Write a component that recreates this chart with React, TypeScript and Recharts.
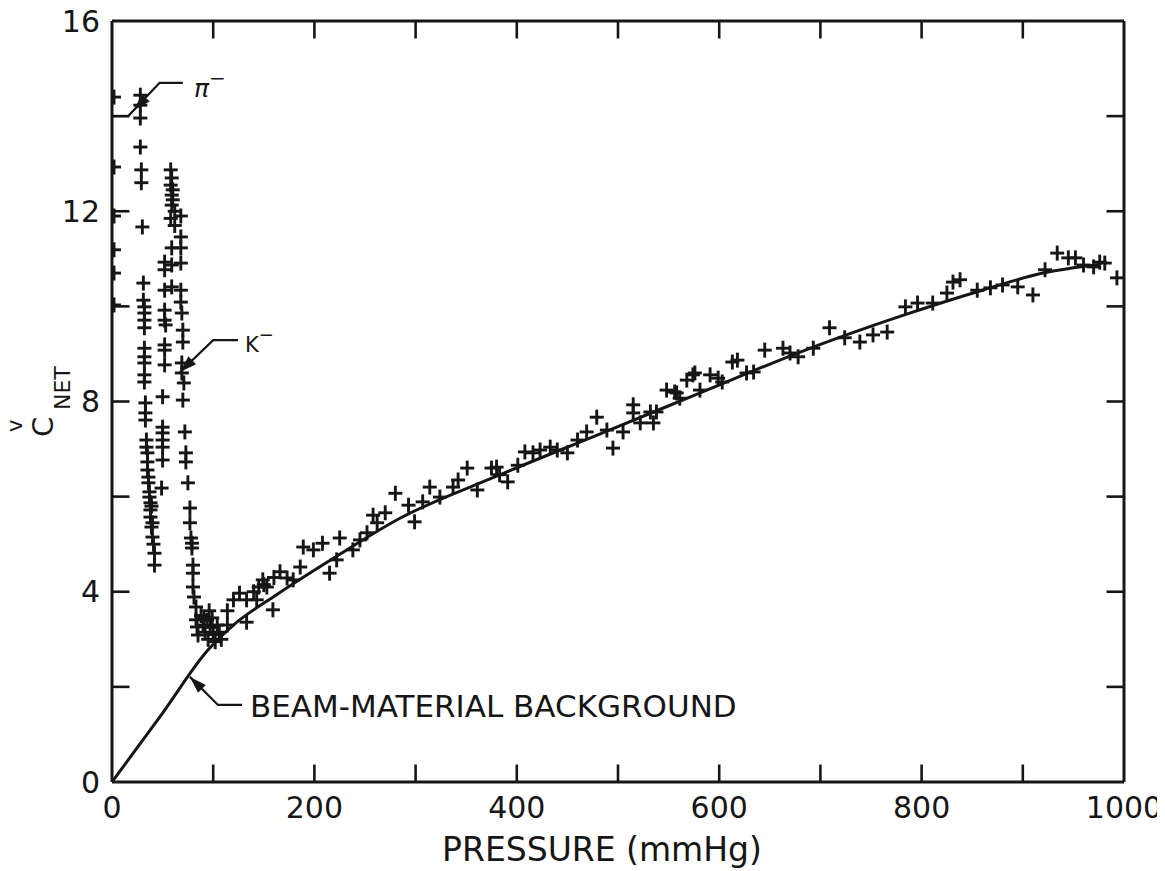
import React from 'react';
import { ComposedChart, Scatter, Line, XAxis, YAxis, ReferenceLine, Customized } from 'recharts';

// ---- axis ticks ----
const xTicks = [0, 100, 200, 300, 400, 500, 600, 700, 800, 900, 1000];
const xLabelled = [0, 200, 400, 600, 800, 1000];
const yTicks = [0, 2, 4, 6, 8, 10, 12, 14, 16];
const yLabelled = [0, 4, 8, 12, 16];

// ---- fitted curve (solid line) ----
const curveX = [0, 50, 95, 120, 160, 220, 285, 380, 480, 580, 680, 780, 860, 920, 975];
const curveY = [0, 1.45, 2.78, 3.3, 3.9, 4.72, 5.55, 6.43, 7.3, 8.17, 9.04, 9.8, 10.34, 10.7, 10.88];

// ---- measured points ----
const piAxis = [
  { x: 2, y: 14.4 }, { x: 2, y: 12.93 }, { x: 2, y: 11.9 }, { x: 2, y: 11.19 }, { x: 2, y: 10.7 }, { x: 2, y: 10.03 },
];
const piColumn = [
  { x: 28, y: 14.44 }, { x: 28, y: 14.23 }, { x: 28, y: 13.96 }, { x: 28, y: 13.35 }, { x: 29, y: 12.87 },
  { x: 29, y: 12.6 }, { x: 30, y: 11.67 }, { x: 31, y: 10.49 }, { x: 31, y: 10.13 }, { x: 32, y: 9.99 },
  { x: 32, y: 9.86 }, { x: 32, y: 9.71 }, { x: 32, y: 9.55 }, { x: 32, y: 9.12 }, { x: 32, y: 8.94 },
  { x: 32, y: 8.81 }, { x: 32, y: 8.56 }, { x: 32, y: 8.41 },
];
const piLower = [
  { x: 33, y: 7.97 }, { x: 33, y: 7.76 }, { x: 33, y: 7.61 }, { x: 34, y: 7.19 }, { x: 34, y: 7.04 },
  { x: 35, y: 6.92 }, { x: 35, y: 6.73 }, { x: 35, y: 6.56 }, { x: 36, y: 6.41 }, { x: 36, y: 6.29 },
  { x: 37, y: 6.1 }, { x: 37, y: 5.99 }, { x: 38, y: 5.87 }, { x: 39, y: 5.8 }, { x: 38, y: 5.72 },
  { x: 38, y: 5.57 }, { x: 40, y: 5.45 }, { x: 39, y: 5.36 }, { x: 40, y: 5.15 }, { x: 41, y: 5.0 },
  { x: 42, y: 4.81 }, { x: 42, y: 4.56 },
];
const midColumn = [
  { x: 58, y: 12.87 }, { x: 59, y: 12.7 }, { x: 58, y: 12.55 }, { x: 60, y: 12.45 }, { x: 59, y: 12.34 },
  { x: 60, y: 12.24 }, { x: 59, y: 12.13 }, { x: 62, y: 12.0 }, { x: 58, y: 11.85 }, { x: 62, y: 11.7 },
  { x: 59, y: 11.23 }, { x: 59, y: 10.87 }, { x: 59, y: 10.41 },
  { x: 52, y: 10.93 }, { x: 52, y: 10.77 }, { x: 52, y: 10.34 }, { x: 52, y: 9.92 }, { x: 52, y: 9.71 },
  { x: 53, y: 9.61 }, { x: 52, y: 9.19 }, { x: 52, y: 9.08 }, { x: 52, y: 8.77 },
  { x: 50, y: 8.1 }, { x: 50, y: 7.46 }, { x: 50, y: 7.34 }, { x: 50, y: 7.19 }, { x: 50, y: 7.04 },
  { x: 50, y: 6.77 }, { x: 49, y: 6.18 },
];
const kColumn = [
  { x: 68, y: 11.9 }, { x: 68, y: 11.46 }, { x: 68, y: 11.23 }, { x: 68, y: 10.91 }, { x: 68, y: 10.34 },
  { x: 68, y: 10.09 }, { x: 69, y: 9.86 }, { x: 70, y: 9.5 }, { x: 70, y: 9.25 }, { x: 69, y: 8.81 },
  { x: 69, y: 8.6 }, { x: 71, y: 8.39 }, { x: 70, y: 8.03 }, { x: 72, y: 7.36 }, { x: 73, y: 6.92 },
  { x: 73, y: 6.73 }, { x: 75, y: 6.29 }, { x: 77, y: 5.76 }, { x: 77, y: 5.45 }, { x: 78, y: 5.13 },
  { x: 79, y: 5.02 }, { x: 79, y: 4.92 }, { x: 80, y: 4.56 }, { x: 80, y: 4.39 }, { x: 80, y: 4.1 },
  { x: 81, y: 3.89 }, { x: 83, y: 3.68 }, { x: 83, y: 3.41 }, { x: 84, y: 3.26 }, { x: 85, y: 3.09 },
];
const minimumCloud = [
  { x: 88, y: 3.5 }, { x: 90, y: 3.3 }, { x: 92, y: 3.15 }, { x: 94, y: 3.4 }, { x: 95, y: 3.0 },
  { x: 97, y: 3.25 }, { x: 99, y: 3.45 }, { x: 100, y: 3.1 }, { x: 102, y: 2.95 }, { x: 104, y: 3.3 },
  { x: 106, y: 3.15 }, { x: 108, y: 3.0 }, { x: 96, y: 3.6 }, { x: 91, y: 3.45 },
];
const riseLow = [
  { x: 114, y: 3.6 }, { x: 120, y: 3.83 }, { x: 126, y: 3.97 }, { x: 133, y: 3.83 }, { x: 140, y: 4.0 },
  { x: 143, y: 3.83 }, { x: 145, y: 4.1 }, { x: 149, y: 4.25 }, { x: 150, y: 4.15 }, { x: 153, y: 4.1 },
  { x: 159, y: 3.62 }, { x: 160, y: 4.3 }, { x: 166, y: 4.42 }, { x: 173, y: 4.29 }, { x: 179, y: 4.25 },
  { x: 186, y: 4.52 }, { x: 189, y: 4.94 }, { x: 199, y: 4.88 }, { x: 208, y: 5.02 }, { x: 215, y: 4.39 },
  { x: 222, y: 4.67 }, { x: 225, y: 5.13 }, { x: 238, y: 4.88 }, { x: 245, y: 5.09 }, { x: 252, y: 5.24 },
  { x: 258, y: 5.61 }, { x: 270, y: 5.66 }, { x: 262, y: 5.45 }, { x: 114, y: 3.3 }, { x: 133, y: 3.36 },
];
const riseMid = [
  { x: 280, y: 6.07 }, { x: 293, y: 5.82 }, { x: 299, y: 5.47 }, { x: 307, y: 5.89 }, { x: 314, y: 6.2 },
  { x: 324, y: 5.99 }, { x: 337, y: 6.2 }, { x: 342, y: 6.35 }, { x: 351, y: 6.6 }, { x: 361, y: 6.14 },
  { x: 375, y: 6.6 }, { x: 380, y: 6.62 }, { x: 383, y: 6.46 }, { x: 391, y: 6.31 }, { x: 401, y: 6.66 },
  { x: 408, y: 6.94 }, { x: 416, y: 6.92 }, { x: 423, y: 6.98 }, { x: 433, y: 7.04 }, { x: 440, y: 6.98 },
  { x: 450, y: 6.92 }, { x: 460, y: 7.19 }, { x: 469, y: 7.36 }, { x: 479, y: 7.67 }, { x: 489, y: 7.4 },
  { x: 495, y: 7.02 }, { x: 505, y: 7.36 }, { x: 515, y: 7.93 }, { x: 515, y: 7.76 }, { x: 522, y: 7.55 },
  { x: 532, y: 7.78 }, { x: 538, y: 7.78 }, { x: 548, y: 8.24 }, { x: 558, y: 8.18 }, { x: 568, y: 8.45 },
  { x: 576, y: 8.6 },
];
const riseHigh = [
  { x: 535, y: 7.55 }, { x: 556, y: 8.2 }, { x: 561, y: 8.07 }, { x: 574, y: 8.56 }, { x: 581, y: 8.24 },
  { x: 591, y: 8.56 }, { x: 599, y: 8.49 }, { x: 603, y: 8.41 }, { x: 613, y: 8.83 }, { x: 618, y: 8.87 },
  { x: 627, y: 8.6 }, { x: 634, y: 8.62 }, { x: 645, y: 9.08 }, { x: 663, y: 9.12 }, { x: 670, y: 9.02 },
  { x: 678, y: 8.94 }, { x: 693, y: 9.12 }, { x: 709, y: 9.55 }, { x: 724, y: 9.34 }, { x: 739, y: 9.25 },
  { x: 752, y: 9.4 }, { x: 766, y: 9.46 }, { x: 784, y: 9.99 }, { x: 796, y: 10.07 }, { x: 811, y: 10.07 },
  { x: 825, y: 10.28 }, { x: 831, y: 10.51 }, { x: 838, y: 10.56 }, { x: 855, y: 10.34 }, { x: 868, y: 10.39 },
  { x: 880, y: 10.45 }, { x: 895, y: 10.41 }, { x: 910, y: 10.24 }, { x: 922, y: 10.77 }, { x: 934, y: 11.12 },
  { x: 945, y: 11.02 }, { x: 952, y: 11.02 }, { x: 960, y: 10.87 }, { x: 970, y: 10.83 }, { x: 976, y: 10.93 },
  { x: 981, y: 10.91 }, { x: 993, y: 10.6 },
];

// ---- annotation leaders (data coordinates) ----
const piLeader = [{ x: 0, y: 14.0 }, { x: 16, y: 14.0 }, { x: 47, y: 14.7 }, { x: 70, y: 14.7 }];
const kLeader = [{ x: 67.2, y: 8.62 }, { x: 100, y: 9.29 }, { x: 124.5, y: 9.29 }];
const beamLeader = [{ x: 77, y: 2.21 }, { x: 104.7, y: 1.62 }, { x: 128.5, y: 1.62 }];
const piArrowTip = [{ x: 21.7, y: 14.13 }];
const kArrowTip = [{ x: 67.2, y: 8.62 }];
const beamArrowTip = [{ x: 77, y: 2.21 }];

const curve = curveX.map((x, i) => ({ x, y: curveY[i] }));
const points = [
  ...piAxis, ...piColumn, ...piLower, ...midColumn, ...kColumn,
  ...minimumCloud, ...riseLow, ...riseMid, ...riseHigh,
];

const INK = '#161616';
const FONT = '"DejaVu Sans", sans-serif';
const X_MIN = 0, X_MAX = 1000, Y_MIN = 0, Y_MAX = 16;
const TICK_PX = 17.5;

// chart layout
const W = 1165, H = 871;
const M = { top: 21, right: 41, bottom: 0, left: 0 };
const X_AXIS_H = 89, Y_AXIS_W = 112;
const PLOT = {
  x: M.left + Y_AXIS_W,
  y: M.top,
  width: W - M.left - M.right - Y_AXIS_W,
  height: H - M.top - M.bottom - X_AXIS_H,
};

const innerX = xTicks.filter((t) => t > X_MIN && t < X_MAX);
const innerY = yTicks.filter((t) => t > Y_MIN && t < Y_MAX);

// inward frame tick marks, laid over the chart on the same plot geometry
const FrameTicksOverlay = () => {
  const a = PLOT;
  const sx = (v: number) => a.x + ((v - X_MIN) / (X_MAX - X_MIN)) * a.width;
  const sy = (v: number) => a.y + a.height - ((v - Y_MIN) / (Y_MAX - Y_MIN)) * a.height;
  const bottom = a.y + a.height, top = a.y, left = a.x, right = a.x + a.width;
  return (
    <svg
      width={W}
      height={H}
      style={{ position: 'absolute', left: 0, top: 0, pointerEvents: 'none', overflow: 'visible' }}
    >
      <g stroke={INK} strokeWidth={2.6} fill="none">
        {innerX.map((t) => (
          <path key={`b${t}`} d={`M${sx(t)},${bottom} L${sx(t)},${bottom - TICK_PX}`} />
        ))}
        {innerX.map((t) => (
          <path key={`t${t}`} d={`M${sx(t)},${top} L${sx(t)},${top + TICK_PX}`} />
        ))}
        {innerY.map((t) => (
          <path key={`l${t}`} d={`M${left},${sy(t)} L${left + TICK_PX},${sy(t)}`} />
        ))}
        {innerY.map((t) => (
          <path key={`r${t}`} d={`M${right},${sy(t)} L${right - TICK_PX},${sy(t)}`} />
        ))}
      </g>
    </svg>
  );
};

const Plus = (props: any) => {
  const { cx, cy } = props;
  if (cx == null || cy == null) return null;
  return (
    <g stroke={INK} strokeWidth={2.9} strokeLinecap="butt">
      <line x1={cx - 7} x2={cx + 7} y1={cy} y2={cy} />
      <line x1={cx} x2={cx} y1={cy - 7.5} y2={cy + 7.5} />
    </g>
  );
};

const arrowHead = (angle: number) => (props: any) => {
  const { cx, cy } = props;
  if (cx == null || cy == null) return null;
  return (
    <path
      d="M0,0 L-17,-5.5 L-17,5.5 Z"
      fill={INK}
      transform={`translate(${cx},${cy}) rotate(${angle})`}
    />
  );
};
const piArrow = arrowHead(134);
const kArrow = arrowHead(136);
const beamArrow = arrowHead(-135);

const Labels = () => (
  <g fill={INK} fontFamily={FONT}>
    <text x={194} y={97} fontSize={25} fontStyle="italic">
      π<tspan dy={-12} fontSize={20}>−</tspan>
    </text>
    <text x={245} y={352} fontSize={21}>
      K<tspan dy={-11} fontSize={18}>−</tspan>
    </text>
    <text x={250} y={717} fontSize={31}>BEAM-MATERIAL BACKGROUND</text>
    <text x={602} y={861} fontSize={33} textAnchor="middle">PRESSURE (mmHg)</text>
    <text x={53} y={437} fontSize={29} transform="rotate(-90, 53, 437)">C</text>
    <text x={70} y={410} fontSize={22} transform="rotate(-90, 70, 410)">NET</text>
    <text x={22} y={432} fontSize={21} transform="rotate(-90, 22, 432)">v</text>
  </g>
);

const tickStyle = { fontFamily: FONT, fontSize: 30, fill: INK };
const frame = { stroke: INK, strokeWidth: 3 };

export default function App() {
  return (
    <div style={{ position: 'relative', margin: '-8px 0 0 -8px', width: W, height: H, background: '#fff' }}>
      <ComposedChart width={W} height={H} margin={M}>
        <XAxis
          xAxisId={0}
          dataKey="x"
          type="number"
          domain={[X_MIN, X_MAX]}
          ticks={xTicks}
          interval={0}
          allowDataOverflow
          height={X_AXIS_H}
          axisLine={frame}
          tickLine={false}
          tickSize={0}
          tickMargin={15}
          tick={tickStyle}
          tickFormatter={(v: number) => (xLabelled.includes(v) ? String(v) : '')}
        />
        <YAxis
          yAxisId={0}
          type="number"
          domain={[Y_MIN, Y_MAX]}
          ticks={yTicks}
          interval={0}
          allowDataOverflow
          width={Y_AXIS_W}
          axisLine={frame}
          tickLine={false}
          tickSize={0}
          tickMargin={12}
          tick={tickStyle}
          tickFormatter={(v: number) => (yLabelled.includes(v) ? String(v) : '')}
        />
        {/* top and right frame */}
        <ReferenceLine y={Y_MAX} stroke={INK} strokeWidth={3} />
        <ReferenceLine x={X_MAX} stroke={INK} strokeWidth={3} />
        <Line data={curve} dataKey="y" type="monotone" stroke={INK} strokeWidth={3} dot={false} activeDot={false} isAnimationActive={false} />
        <Line data={piLeader} dataKey="y" type="linear" stroke={INK} strokeWidth={2.2} dot={false} activeDot={false} isAnimationActive={false} />
        <Line data={kLeader} dataKey="y" type="linear" stroke={INK} strokeWidth={2.2} dot={false} activeDot={false} isAnimationActive={false} />
        <Line data={beamLeader} dataKey="y" type="linear" stroke={INK} strokeWidth={2.2} dot={false} activeDot={false} isAnimationActive={false} />
        <Scatter data={points} dataKey="y" shape={Plus} isAnimationActive={false} />
        <Scatter data={piArrowTip} dataKey="y" shape={piArrow} isAnimationActive={false} />
        <Scatter data={kArrowTip} dataKey="y" shape={kArrow} isAnimationActive={false} />
        <Scatter data={beamArrowTip} dataKey="y" shape={beamArrow} isAnimationActive={false} />
        <Customized component={Labels} />
      </ComposedChart>
      <FrameTicksOverlay />
    </div>
  );
}
